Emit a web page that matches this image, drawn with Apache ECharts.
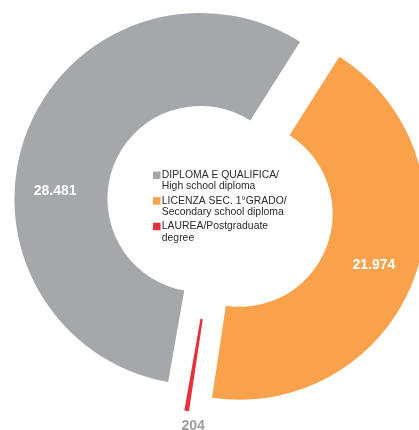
<!DOCTYPE html>
<html>
<head>
<meta charset="utf-8">
<style>
  html, body { margin: 0; padding: 0; background: #ffffff; }
  #chart { width: 419px; height: 430px; }
</style>
<script src="https://cdn.jsdelivr.net/npm/echarts@6/dist/echarts.min.js"></script>
</head>
<body>
<div id="chart"></div>
<script>
// Qualification levels (Italian / English) and headcounts
const categories = [
  'DIPLOMA E QUALIFICA/\nHigh school diploma',
  'LICENZA SEC. 1°GRADO/\nSecondary school diploma',
  'LAUREA/Postgraduate\ndegree'
];
const values = [28481, 21974, 204];
const colors = ['#a6a7aa', '#f9a24b', '#e8303a'];
const labelColors = ['#ffffff', '#ffffff', '#9d9ea2'];

// Italian thousands separator
function fmt(v) {
  return String(v).replace(/\B(?=(\d{3})+(?!\d))/g, '.');
}

// label nudges (px) for each slice
const labelShift = [[-12.4, 43.5], [0.8, 1.4], [-0.5, 58.2]];

const chart = echarts.init(document.getElementById('chart'), null, { renderer: 'canvas' });

chart.setOption({
  animation: false,
  backgroundColor: '#ffffff',
  legend: {
    orient: 'vertical',
    left: 153,
    top: 158.5,
    padding: 0,
    itemWidth: 7.5,
    itemHeight: 7.5,
    itemGap: -8,
    icon: 'rect',
    selectedMode: false,
    data: categories,
    // leading blank line keeps the first text line level with the swatch
    formatter: function (name) { return '\n' + name; },
    textStyle: {
      fontFamily: '"Liberation Sans", Arial, sans-serif',
      fontSize: 10.4,
      lineHeight: 11.2,
      color: '#2b2b2b',
      padding: [0, 0, 0, -3.7]
    }
  },
  series: [{
    type: 'pie',
    center: [220, 206.5],
    radius: [93, 186],
    startAngle: 260,
    clockwise: true,
    selectedMode: 'multiple',
    selectedOffset: 21,
    avoidLabelOverlap: false,
    emphasis: { disabled: true },
    labelLine: { show: false },
    label: {
      show: true,
      position: 'inside',
      fontFamily: '"Liberation Sans", Arial, sans-serif',
      fontSize: 14,
      fontWeight: 'bold',
      formatter: function (p) { return fmt(p.value); }
    },
    labelLayout: function (params) {
      const s = labelShift[params.dataIndex];
      return { dx: s[0], dy: s[1] };
    },
    data: categories.map(function (name, i) {
      return {
        name: name,
        value: values[i],
        selected: true,
        itemStyle: { color: colors[i] },
        label: { color: labelColors[i] }
      };
    })
  }]
});
</script>
</body>
</html>
